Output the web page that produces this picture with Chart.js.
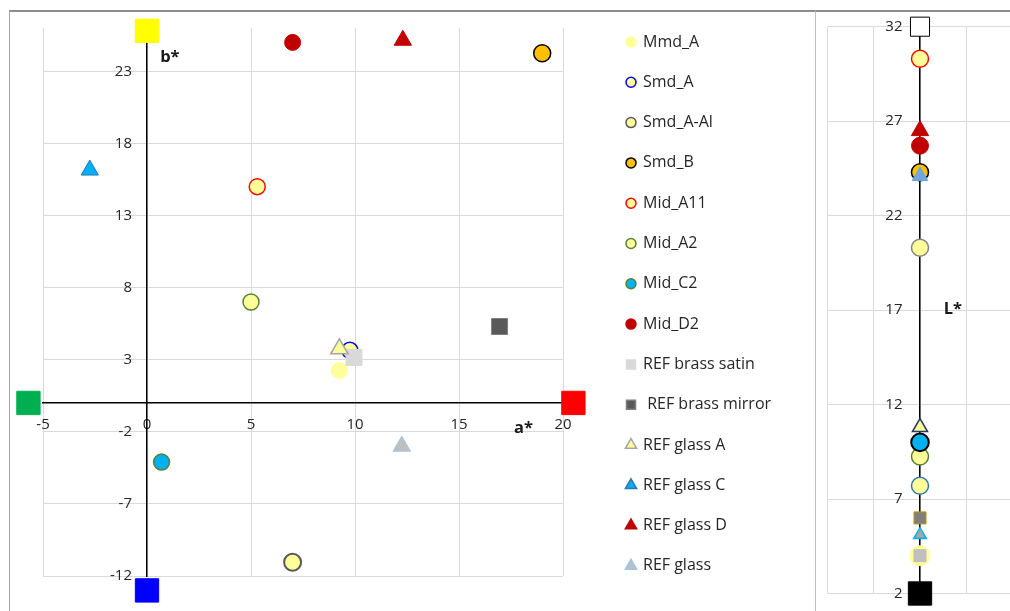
<!DOCTYPE html>
<html>
<head>
<meta charset="utf-8">
<script src="https://cdn.jsdelivr.net/npm/chart.js@4.4.0/dist/chart.umd.min.js"></script>
<style>
  html, body { margin: 0; padding: 0; background: #fff; overflow: hidden; width: 1010px; height: 611px; }
  #frameMain { position: absolute; left: 9px; top: 10px; width: 806px; height: 601px; border-left: 1px solid #a6a6a6; border-top: 2px solid #8c8c8c; }
  #frameL { position: absolute; left: 815px; top: 10px; width: 195px; height: 601px; border-left: 1px solid #bfbfbf; border-top: 2px solid #8c8c8c; }
  canvas { position: absolute; top: 0; }
  #abChart { left: 0; }
  #lChart { left: 810px; }
</style>
</head>
<body>
<div id="frameMain"></div>
<div id="frameL"></div>
<canvas id="abChart" width="810" height="611"></canvas>
<canvas id="lChart" width="220" height="611"></canvas>
<script>
// Séries
const seriesNames = ['Mmd_A', 'Smd_A', 'Smd_A-Al', 'Smd_B', 'Mid_A11', 'Mid_A2', 'Mid_C2', 'Mid_D2',
  'REF brass satin', ' REF brass mirror', 'REF glass A', 'REF glass C', 'REF glass D', 'REF glass'];
const aValues = [9.25, 9.75, 7.0, 19.0, 5.3, 5.0, 0.7, 7.0, 9.95, 16.95, 9.25, -2.75, 12.3, 12.25];
const bValues = [2.25, 3.65, -11.05, 24.25, 15.0, 7.0, -4.1, 25.0, 3.15, 5.3, 3.75, 16.15, 25.15, -3.0];
const lValues = [4.0, 7.7, 20.3, 24.3, 30.3, 9.25, 10.0, 25.7, 4.0, 6.0, 10.8, 24.1, 26.5, 5.1];

// Marcadores dos eixos de cor (verde, vermelho, amarelo, azul) e L* (branco, preto)
const poleA = [-5.7, 20.5, 0, 0];
const poleB = [0, 0, 25.8, -13];
const poleL = [32, 2];

// Rótulos dos eixos
const aTicks = [-5, 0, 5, 10, 15, 20];
const bTicks = [-12, -7, -2, 3, 8, 13, 18, 23];
const lTicks = [2, 7, 12, 17, 22, 27, 32];
const lGrid = [-2, -1, 0, 1, 2];

// Estilos
const FONT = '"Open Sans", Lato, sans-serif';
const shapes = ['circle', 'circle', 'circle', 'circle', 'circle', 'circle', 'circle', 'circle',
  'rect', 'rect', 'triangle', 'triangle', 'triangle', 'triangle'];
const abFill = ['#FFFF99', '#FFFF99', '#FFFF99', '#FFC000', '#FFFF99', '#FFFF99', '#00B0F0', '#C00000',
  '#D9D9D9', '#595959', '#FFFF99', '#00B0F0', '#C00000', '#BFBFBF'];
const abEdge = ['#FFFF99', '#0000FF', '#595959', '#000000', '#FF0000', '#548235', '#548235', '#C00000',
  '#D9D9D9', '#7F7F7F', '#A6A6A6', '#2E75B6', '#C00000', '#9DC3E6'];
const abRadius = [8, 8, 8.5, 8.5, 8, 8, 8, 8, 11.3, 11.3, 10, 10, 10, 10];
const abEdgeWidth = [1, 1.5, 2, 1.5, 1.5, 1.5, 1.5, 1, 1, 1, 1.5, 1, 1, 1];
const lFill = ['#FFFF99', '#FFFF99', '#FFFF99', '#FFC000', '#FFFF99', '#FFFF99', '#00B0F0', '#C00000',
  '#BFBFBF', '#7F7F7F', '#FFFF99', '#6FA8DC', '#C00000', '#A6A6A6'];
const lEdge = ['#FFFF99', '#2E75B6', '#7F7F7F', '#000000', '#FF0000', '#548235', '#000000', '#C00000',
  '#BFBFBF', '#BF9000', '#203864', '#6FA8DC', '#C00000', '#00B0F0'];
const lRadius = [10, 8.5, 8.5, 8.5, 8.5, 8.5, 8.8, 8.5, 8.5, 8.5, 8.7, 9, 10, 7.3];
const lEdgeWidth = [1, 1.5, 1.5, 1.5, 1.5, 1.5, 2, 1, 1, 1, 1.5, 1, 1, 1.5];

Chart.defaults.font.family = FONT;
Chart.defaults.color = '#262626';

function drawMarker(ctx, shape, x, y, r, fill, edge, lw) {
  ctx.beginPath();
  if (shape === 'circle') {
    ctx.arc(x, y, r, 0, Math.PI * 2);
  } else if (shape === 'rect') {
    ctx.rect(x - r, y - r, 2 * r, 2 * r);
  } else {
    ctx.moveTo(x, y - r);
    ctx.lineTo(x + r * 0.866, y + r * 0.5);
    ctx.lineTo(x - r * 0.866, y + r * 0.5);
    ctx.closePath();
  }
  ctx.fillStyle = fill;
  ctx.fill();
  ctx.lineWidth = lw;
  ctx.strokeStyle = edge;
  ctx.stroke();
}

// Legenda lateral (mesma ordem das séries)
const sideLegend = {
  id: 'sideLegend',
  afterDraw(chart, args, opts) {
    const ctx = chart.ctx;
    const sizes = {circle: 5, rect: 4.5, triangle: 6.5};
    ctx.save();
    seriesNames.forEach((name, i) => {
      const y = opts.top + i * opts.step;
      drawMarker(ctx, shapes[i], opts.markerX, y, sizes[shapes[i]], abFill[i], abEdge[i], 1.5);
      ctx.font = opts.font;
      ctx.textBaseline = 'middle';
      ctx.textAlign = 'left';
      ctx.fillStyle = opts.color;
      ctx.fillText(name, opts.textX, y);
    });
    ctx.restore();
  }
};

// Títulos dos eixos (a*, b*, L*)
const axisTitles = {
  id: 'axisTitles',
  afterDraw(chart, args, opts) {
    const ctx = chart.ctx;
    ctx.save();
    ctx.font = 'bold 16.5px ' + FONT;
    ctx.fillStyle = '#1a1a1a';
    ctx.textAlign = 'center';
    ctx.textBaseline = 'middle';
    opts.items.forEach(t => {
      ctx.fillText(t.text, chart.scales.x.getPixelForValue(t.x), chart.scales.y.getPixelForValue(t.y));
    });
    ctx.restore();
  }
};

function fixedTicks(values) {
  return scale => { scale.ticks = values.map(v => ({value: v})); };
}
// rótulos do eixo vertical afastados da linha do eixo
const gapLabel = v => String(v) + '\u2003';
const gapLabelL = v => String(v) + '\u2003\u2009';

// Gráfico a* / b*
const abDatasets = seriesNames.map((name, i) => ({
  label: name,
  data: [{x: aValues[i], y: bValues[i]}],
  pointStyle: shapes[i],
  pointRadius: abRadius[i],
  pointBackgroundColor: abFill[i],
  pointBorderColor: abEdge[i],
  pointBorderWidth: abEdgeWidth[i],
  order: seriesNames.length - i,
  clip: false
}));
abDatasets.push({
  label: 'poles',
  data: poleA.map((a, i) => ({x: a, y: poleB[i]})),
  pointStyle: 'rect',
  pointRadius: 16.5,
  pointBackgroundColor: ['#00B050', '#FF0000', '#FFFF00', '#0000FF'],
  pointBorderColor: ['#00B050', '#FF0000', '#FFFF00', '#0000FF'],
  pointBorderWidth: 1,
  order: 0,
  clip: false
});

new Chart(document.getElementById('abChart'), {
  type: 'scatter',
  data: {datasets: abDatasets},
  options: {
    responsive: false,
    animation: false,
    events: [],
    layout: {padding: {left: 43, right: 247, top: 28, bottom: 35}},
    plugins: {
      legend: {display: false},
      tooltip: {enabled: false},
      sideLegend: {top: 42, step: 40.3, markerX: 631, textX: 643, font: '16px ' + FONT, color: '#262626'},
      axisTitles: {items: [{text: 'b*', x: 1.1, y: 24.0}, {text: 'a*', x: 18.1, y: -1.75}]}
    },
    scales: {
      x: {
        type: 'linear', min: -5, max: 20, position: {y: 0},
        afterBuildTicks: fixedTicks(aTicks),
        grid: {color: '#d9d9d9', drawTicks: false},
        border: {color: '#000', width: 1.5},
        ticks: {padding: 13, font: {size: 15}, maxRotation: 0, autoSkip: false}
      },
      y: {
        type: 'linear', min: -12, max: 26, position: {x: 0},
        afterBuildTicks: fixedTicks(bTicks),
        grid: {color: '#d9d9d9', drawTicks: false},
        border: {color: '#000', width: 1.5},
        ticks: {font: {size: 15}, autoSkip: false, callback: gapLabel}
      }
    }
  },
  plugins: [sideLegend, axisTitles]
});

// Gráfico L*
const lDatasets = seriesNames.map((name, i) => ({
  label: name,
  data: [{x: 0, y: lValues[i]}],
  pointStyle: shapes[i],
  pointRadius: lRadius[i],
  pointBackgroundColor: lFill[i],
  pointBorderColor: lEdge[i],
  pointBorderWidth: lEdgeWidth[i],
  order: seriesNames.length - i,
  clip: false
}));
lDatasets.push({
  label: 'poles',
  data: poleL.map(v => ({x: 0, y: v})),
  pointStyle: 'rect',
  pointRadius: [13.5, 16.5],
  pointBackgroundColor: ['#FFFFFF', '#000000'],
  pointBorderColor: ['#000000', '#000000'],
  pointBorderWidth: 1,
  order: 0,
  clip: false
});

new Chart(document.getElementById('lChart'), {
  type: 'scatter',
  data: {datasets: lDatasets},
  options: {
    responsive: false,
    animation: false,
    events: [],
    layout: {padding: {left: 8.3, right: 14.3, top: 26.7, bottom: 12.7}},
    plugins: {
      legend: {display: false},
      tooltip: {enabled: false},
      axisTitles: {items: [{text: 'L*', x: 0.71, y: 17.05}]}
    },
    scales: {
      x: {
        type: 'linear', min: -2, max: 2, position: {y: 2},
        afterBuildTicks: fixedTicks(lGrid),
        grid: {color: '#d9d9d9', drawTicks: false},
        border: {display: false},
        ticks: {display: false}
      },
      y: {
        type: 'linear', min: 2, max: 32, position: {x: 0},
        afterBuildTicks: fixedTicks(lTicks),
        grid: {color: '#d9d9d9', drawTicks: false},
        border: {color: '#000', width: 1.5},
        ticks: {font: {size: 15}, autoSkip: false, callback: gapLabelL}
      }
    }
  },
  plugins: [axisTitles]
});
</script>
</body>
</html>
